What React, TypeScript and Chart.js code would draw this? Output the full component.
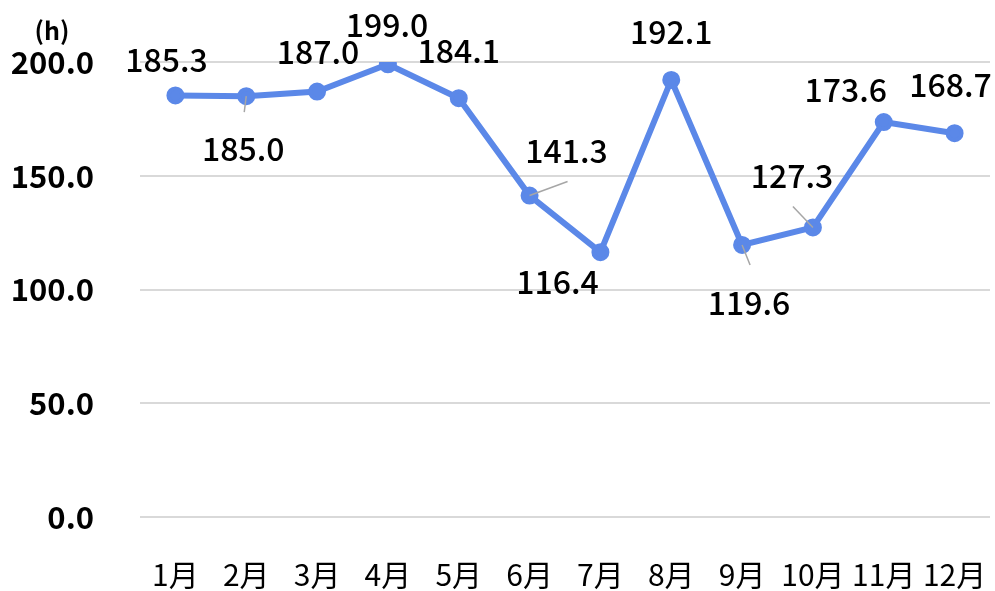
import React, { useEffect, useRef } from "react";
import { Chart, registerables } from "chart.js";

Chart.register(...registerables);

const categories = ["1月", "2月", "3月", "4月", "5月", "6月", "7月", "8月", "9月", "10月", "11月", "12月"];
const hours = [185.3, 185.0, 187.0, 199.0, 184.1, 141.3, 116.4, 192.1, 119.6, 127.3, 173.6, 168.7];
const yTicks = [0, 50, 100, 150, 200];
const unitLabel = "(h)";

// label placement (offset of label centre from its point), and optional leader line end
const labelOffsets: [number, number][] = [
  [-9, -36], [-3, 53], [1, -40], [-1, -39], [0, -47], [37, -45],
  [-43, 30], [0, -48], [7, 58], [-21, -52], [-38, -32], [-4, -48],
];
const leaderEnds: ([number, number] | null)[] = [
  null, [-2, 16], null, null, null, [38, -14],
  null, null, [8, 20], [-20, -21], null, null,
];

const FONT = "'Noto Sans CJK JP', 'Noto Sans', sans-serif";
const LINE_COLOR = "#5b88e8";

const labelPlugin = {
  id: "valueLabels",
  afterDatasetsDraw(chart: any) {
    const ctx = chart.ctx;
    const meta = chart.getDatasetMeta(0);
    ctx.save();
    meta.data.forEach((pt: any, i: number) => {
      const le = leaderEnds[i];
      if (le) {
        ctx.strokeStyle = "#a6a6a6";
        ctx.lineWidth = 1.5;
        ctx.beginPath();
        ctx.moveTo(pt.x, pt.y);
        ctx.lineTo(pt.x + le[0], pt.y + le[1]);
        ctx.stroke();
      }
    });
    ctx.fillStyle = "#000";
    ctx.font = `500 32px ${FONT}`;
    ctx.textAlign = "center";
    ctx.textBaseline = "middle";
    meta.data.forEach((pt: any, i: number) => {
      const [dx, dy] = labelOffsets[i];
      ctx.fillText(hours[i].toFixed(1), pt.x + dx, pt.y + dy);
    });
    // unit label
    ctx.font = `bold 25px ${FONT}`;
    ctx.fillText(unitLabel, 52, 30);
    ctx.restore();
  },
};

export default function App() {
  const ref = useRef<HTMLCanvasElement>(null);
  useEffect(() => {
    document.body.style.margin = "0";
    const chart = new Chart(ref.current!, {
      type: "line",
      data: {
        labels: categories,
        datasets: [
          {
            data: hours,
            borderColor: LINE_COLOR,
            backgroundColor: LINE_COLOR,
            borderWidth: 6,
            pointRadius: 7,
            pointHoverRadius: 7,
            pointBackgroundColor: LINE_COLOR,
            pointBorderColor: LINE_COLOR,
            pointBorderWidth: 4,
            tension: 0,
          },
        ],
      },
      options: {
        animation: false,
        responsive: false,
        maintainAspectRatio: false,
        layout: { autoPadding: false, padding: { top: 62, right: 5, left: 0, bottom: 0 } },
        plugins: { legend: { display: false }, tooltip: { enabled: false } },
        scales: {
          x: {
            offset: true,
            grid: { display: false, drawTicks: false },
            border: { display: false },
            ticks: {
              color: "#000",
              font: { family: FONT, size: 30, weight: "normal" as any },
              padding: 40,
              maxRotation: 0,
              autoSkip: false,
            },
            afterFit: (s: any) => {
              s.height = 74;
              s.paddingLeft = 0;
              s.paddingRight = 0;
            },
          },
          y: {
            min: 0,
            max: 200,
            afterBuildTicks: (s: any) => { s.ticks = yTicks.map((v) => ({ value: v })); },
            grid: { color: "#d9d9d9", lineWidth: 2, drawTicks: false },
            border: { display: false },
            ticks: {
              color: "#000",
              font: { family: FONT, size: 31, weight: "bold" as any },
              padding: 46,
              callback: (v: any) => Number(v).toFixed(1),
            },
            afterFit: (s: any) => {
              s.width = 140;
              s.paddingTop = 0;
              s.paddingBottom = 0;
            },
          },
        },
      },
      plugins: [labelPlugin],
    });
    return () => chart.destroy();
  }, []);
  return (
    <div style={{ position: "absolute", left: 0, top: 0, width: 995, height: 591 }}>
      <canvas ref={ref} width={995} height={591} style={{ display: "block" }} />
    </div>
  );
}
